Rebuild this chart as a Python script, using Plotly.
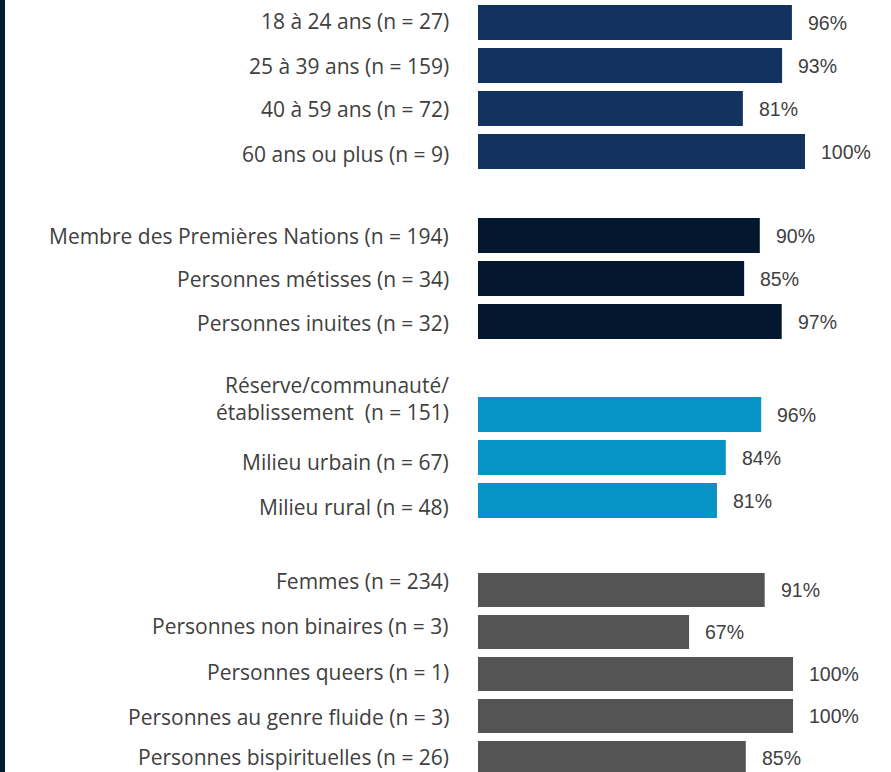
import plotly.graph_objects as go

# data
age_labels = ["18 à 24 ans (n = 27)", "25 à 39 ans (n = 159)", "40 à 59 ans (n = 72)", "60 ans ou plus (n = 9)"]
age_values = [96, 93, 81, 100]

identity_labels = ["Membre des Premières Nations (n = 194)", "Personnes métisses (n = 34)", "Personnes inuites (n = 32)"]
identity_values = [90, 85, 97]

place_labels = ["Réserve/communauté/<br>établissement  (n = 151)", "Milieu urbain (n = 67)", "Milieu rural (n = 48)"]
place_values = [96, 84, 81]

gender_labels = ["Femmes (n = 234)", "Personnes non binaires (n = 3)", "Personnes queers (n = 1)",
                 "Personnes au genre fluide (n = 3)", "Personnes bispirituelles (n = 26)"]
gender_values = [91, 67, 100, 100, 85]

# constants
W, H = 891, 772
TEXT_GREY = "#404040"
BAR_X0 = 478

# layout per group: colour, top/bottom px, x-range max, y-range bottom, label nudges (px, up)
groups = [
    (age_labels, age_values, "#12335F", 1, 173, 126.3, 3.5, [2, 0, 0, -2]),
    (identity_labels, identity_values, "#03182E", 214, 343, 131.9, 2.5, [0, 0, -1]),
    (place_labels, place_values, "#0893C7", 393, 522, 140.0, 2.5, [16, -4, -6]),
    (gender_labels, gender_values, "#545454", 569, 772, 131.1, 4.333, [9, 6, 2, -1, 1]),
]

fig = go.Figure()
annotations = []

for i, (labels, values, color, top, bottom, xmax, ybottom, nudges) in enumerate(groups):
    n = "" if i == 0 else str(i + 1)
    fig.add_trace(go.Bar(
        x=values, y=labels, orientation="h", width=0.81,
        marker=dict(color=color, line=dict(width=0)),
        xaxis="x" + n, yaxis="y" + n, hoverinfo="skip",
    ))
    fig.update_layout({
        "xaxis" + n: dict(domain=[BAR_X0 / W, 1], range=[0, xmax], visible=False,
                          anchor="y" + n, fixedrange=True),
        "yaxis" + n: dict(domain=[1 - bottom / H, 1 - top / H], range=[ybottom, -0.5],
                          visible=False, anchor="x" + n, type="category", fixedrange=True),
    })
    for lab, val, nudge in zip(labels, values, nudges):
        annotations.append(dict(
            x=0, xref="x" + n + " domain", y=lab, yref="y" + n,
            text=lab, showarrow=False, xanchor="right", yanchor="middle",
            xshift=-27, yshift=nudge, align="right",
            font=dict(family="Open Sans", size=21, color=TEXT_GREY),
        ))
        annotations.append(dict(
            x=val, xref="x" + n, y=lab, yref="y" + n,
            text=f"{val}%", showarrow=False, xanchor="left", yanchor="middle",
            xshift=14,
            font=dict(family="Liberation Sans", size=19.5, color=TEXT_GREY),
        ))

fig.update_layout(
    width=W, height=H,
    margin=dict(l=0, r=0, t=0, b=0),
    paper_bgcolor="white", plot_bgcolor="white",
    showlegend=False,
    annotations=annotations,
    shapes=[dict(type="rect", xref="paper", yref="paper", x0=0, x1=5 / W, y0=0, y1=1,
                 fillcolor="#031B33", line=dict(width=0))],
)

# the page's default body margin would push the chart off the window
fig.write_html("out.html", config={"displayModeBar": False},
               post_script="document.body.style.margin = '0px';")
